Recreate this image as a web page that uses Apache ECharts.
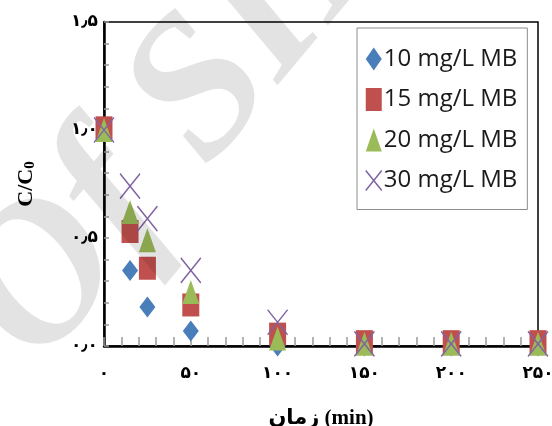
<!DOCTYPE html>
<html>
<head>
<meta charset="utf-8">
<script src="https://cdn.jsdelivr.net/npm/echarts@6/dist/echarts.min.js"></script>
<style>
html,body{margin:0;padding:0;background:#fff;}
#chart{width:552px;height:426px;}
</style>
</head>
<body>
<div id="chart"></div>
<script>
// ---- data ----
const times = [0, 15, 25, 50, 100, 150, 200, 250];
const mb10 = [1.00, 0.35, 0.18, 0.07, 0.00, 0.00, 0.00, 0.00];
const mb15 = [1.01, 0.53, 0.36, 0.19, 0.055, 0.02, 0.02, 0.02];
const mb20 = [1.00, 0.62, 0.49, 0.25, 0.035, 0.01, 0.01, 0.01];
const mb30 = [1.00, 0.74, 0.59, 0.35, 0.11, 0.01, 0.01, 0.01];
const seriesNames = ['10 mg/L MB', '15 mg/L MB', '20 mg/L MB', '30 mg/L MB'];
const xTickLabels = [0, 50, 100, 150, 200, 250];
const yTickLabels = [0, 0.5, 1.0, 1.5];
const xTitle = 'زمان (min)';

const faDigits = '۰۱۲۳۴۵۶۷۸۹';
function toFa(str) { return String(str).replace(/[0-9]/g, d => faDigits[+d]).replace('.', '٫'); }

const colors = ['#4A7EBB', '#C0504D', '#9BBB59', '#8064A2'];
const crossPath = 'path://M0,0L20,25M20,0L0,25';

function pairs(arr) { return times.map((t, i) => [t, arr[i]]); }

const chart = echarts.init(document.getElementById('chart'), null, {renderer: 'canvas'});
const option = {
  backgroundColor: '#fff',
  animation: false,
  grid: {left: 104, right: 14, top: 22, bottom: 80, show: true, borderColor: '#000', borderWidth: 1.5, containLabel: false, outerBoundsMode: 'none'},
  legend: {
    orient: 'vertical', left: 357, top: 28,
    backgroundColor: '#fff',
    borderColor: '#8c8c8c', borderWidth: 1,
    padding: [19, 10, 17, 8],
    itemWidth: 16, itemHeight: 23, itemGap: 16.5,
    textStyle: {fontFamily: 'Open Sans', fontSize: 24, color: '#1a1a1a', padding: [0, 0, 0, -3]},
    data: [
      {name: seriesNames[0], icon: 'diamond'},
      {name: seriesNames[1], icon: 'rect'},
      {name: seriesNames[2], icon: 'triangle'},
      {name: seriesNames[3], icon: crossPath, itemStyle: {color: 'rgba(0,0,0,0)', borderColor: colors[3], borderWidth: 1.5, opacity: 1}}
    ]
  },
  xAxis: {
    type: 'value', min: 0, max: 250, interval: 10,
    name: xTitle, nameLocation: 'middle', nameGap: 62,
    nameTextStyle: {fontFamily: 'Liberation Serif, DejaVu Sans', fontWeight: 'bold', fontSize: 21, color: '#000'},
    axisLine: {show: true, onZero: false, lineStyle: {color: '#000', width: 2.5}},
    axisTick: {show: true, inside: true, length: 9, lineStyle: {color: '#999', width: 1.5}},
    axisLabel: {
      margin: 19, fontFamily: 'DejaVu Sans', fontWeight: 'bold', fontSize: 17, color: '#000',
      formatter: v => (xTickLabels.indexOf(Math.round(v)) >= 0 ? toFa(Math.round(v)) : '')
    },
    splitLine: {show: false}
  },
  yAxis: {
    type: 'value', min: 0, max: 1.5, interval: 0.1,
    name: 'C/C{sub|0}', nameLocation: 'middle', nameGap: 66, nameRotate: 90,
    nameTextStyle: {
      fontFamily: 'Liberation Serif', fontWeight: 'bold', fontSize: 22, color: '#000',
      rich: {sub: {fontFamily: 'Liberation Serif', fontWeight: 'bold', fontSize: 15, verticalAlign: 'bottom', padding: [9, 0, 0, 0]}}
    },
    axisLine: {show: true, onZero: false, lineStyle: {color: '#000', width: 2.5}},
    axisTick: {show: true, inside: true, length: 5, lineStyle: {color: '#999', width: 1.5}},
    axisLabel: {
      margin: 6, fontFamily: 'DejaVu Sans', fontWeight: 'bold', fontSize: 17, color: '#000',
      formatter: v => {
        const r = Math.round(v * 10) / 10;
        return yTickLabels.some(t => Math.abs(t - r) < 1e-6) ? toFa(r.toFixed(1)) : '';
      }
    },
    splitLine: {show: false}
  },
  series: [
    {name: seriesNames[0], type: 'scatter', symbol: 'diamond', symbolSize: [16, 21], itemStyle: {color: colors[0], opacity: 1}, data: pairs(mb10)},
    {name: seriesNames[1], type: 'scatter', symbol: 'rect', symbolSize: [17, 23], itemStyle: {color: colors[1], opacity: 1}, data: pairs(mb15)},
    {name: seriesNames[2], type: 'scatter', symbol: 'triangle', symbolSize: [17, 24], itemStyle: {color: colors[2], opacity: 1}, data: pairs(mb20)},
    {name: seriesNames[3], type: 'scatter', symbol: crossPath, symbolSize: [20, 25], itemStyle: {color: 'rgba(0,0,0,0)', borderColor: colors[3], borderWidth: 1.5, opacity: 1}, data: pairs(mb30)}
  ],
  graphic: [{
    type: 'text', x: 191, y: 108, rotation: 50 * Math.PI / 180, z: 100, silent: true,
    style: {text: 'Of SID', font: 'italic bold 200px "Liberation Serif"', fill: 'rgba(0,0,0,0.11)', align: 'center', verticalAlign: 'middle'}
  }]
};
chart.setOption(option);
</script>
</body>
</html>
